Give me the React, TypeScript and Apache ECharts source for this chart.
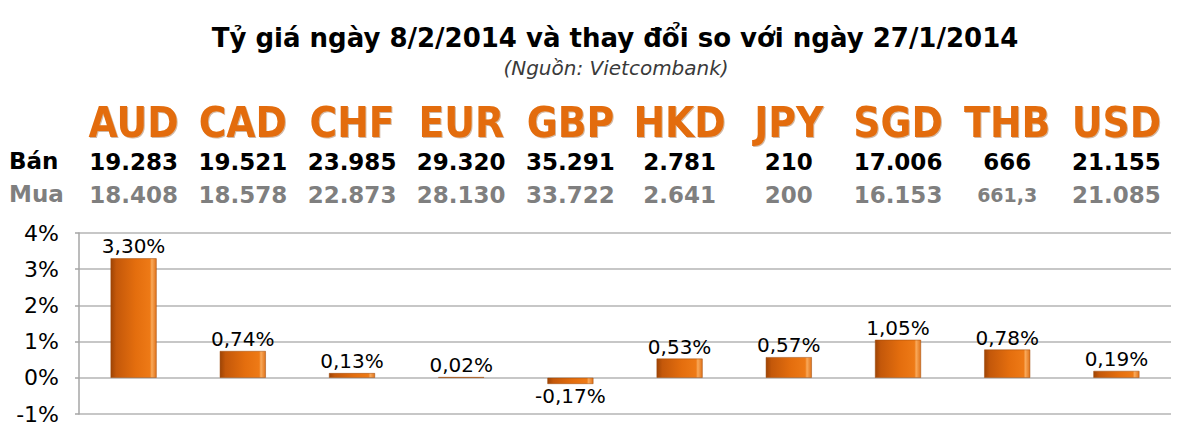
import React, { useEffect, useRef } from "react";
import * as echarts from "echarts";

const currencies = ["AUD", "CAD", "CHF", "EUR", "GBP", "HKD", "JPY", "SGD", "THB", "USD"];
const sellRates = ["19.283", "19.521", "23.985", "29.320", "35.291", "2.781", "210", "17.006", "666", "21.155"];
const buyRates = ["18.408", "18.578", "22.873", "28.130", "33.722", "2.641", "200", "16.153", "661,3", "21.085"];
const changes = [3.3, 0.74, 0.13, 0.02, -0.17, 0.53, 0.57, 1.05, 0.78, 0.19];
const yMin = -1;
const yMax = 4;
const yStep = 1;

const titleText = "Tỷ giá ngày 8/2/2014 và thay đổi so với ngày 27/1/2014";
const subText = "(Nguồn: Vietcombank)";
const sellLabel = "Bán";
const buyLabel = "Mua";

const FONT = "'DejaVu Sans', Verdana, sans-serif";
const NARROW = "'Liberation Sans Narrow', 'DejaVu Sans Condensed', 'Arial Narrow', sans-serif";

const fmtPct = (v: number) => v.toFixed(2).replace(".", ",") + "%";

export default function App() {
  const ref = useRef<HTMLDivElement>(null);
  useEffect(() => {
    if (!ref.current) return;
    const chart = echarts.init(ref.current, undefined, { renderer: "svg" });
    const gridTop = 233;
    const topAxis = (data: string[], offset: number, label: any) => ({
      type: "category",
      gridIndex: 0,
      position: "top",
      offset,
      data,
      axisLine: { show: false },
      axisTick: { show: false },
      splitLine: { show: false },
      axisLabel: { margin: 0, verticalAlign: "middle", interval: 0, ...label },
    });
    const barGradient = new echarts.graphic.LinearGradient(0, 0, 1, 0, [
      { offset: 0, color: "#9E4405" },
      { offset: 0.12, color: "#C4580A" },
      { offset: 0.55, color: "#E46E0E" },
      { offset: 0.86, color: "#EE7A16" },
      { offset: 0.9, color: "#F9A95A" },
      { offset: 1, color: "#E07218" },
    ]);
    chart.setOption({
      animation: false,
      backgroundColor: "#ffffff",
      title: [
        {
          text: titleText,
          left: 610,
          top: 20,
          textAlign: "center",
          textStyle: { fontFamily: FONT, fontWeight: "bold", fontSize: 26, color: "#000" },
        },
        {
          text: subText,
          left: 611,
          top: 53,
          textAlign: "center",
          textStyle: { fontFamily: FONT, fontStyle: "italic", fontWeight: "normal", fontSize: 20, color: "#3a3a3a" },
        },
      ],
      graphic: [
        {
          type: "text",
          left: 9,
          top: 149,
          style: { text: sellLabel, font: `bold 23px ${FONT}`, fill: "#000" },
        },
        {
          type: "text",
          left: 9,
          top: 182,
          style: { text: buyLabel, font: `bold 23px ${FONT}`, fill: "#7F7F7F" },
        },
      ],
      grid: { left: 79, right: 29, top: gridTop, bottom: 33, containLabel: false },
      xAxis: [
        {
          type: "category",
          data: currencies,
          axisLine: { show: false },
          axisTick: { show: false },
          axisLabel: { show: false },
          splitLine: { show: false },
        },
        topAxis(currencies, 111, {
          fontFamily: NARROW,
          fontWeight: "bold",
          fontSize: 42,
          color: "#E36C0A",
          textShadowColor: "rgba(120,50,0,0.35)",
          textShadowOffsetX: 1,
          textShadowOffsetY: 1,
          textShadowBlur: 1,
        }),
        topAxis(sellRates, 71, {
          fontFamily: FONT,
          fontWeight: "bold",
          fontSize: 23,
          color: "#000",
        }),
        topAxis(buyRates, 38, {
          fontFamily: FONT,
          fontWeight: "bold",
          fontSize: 23,
          color: "#7F7F7F",
          formatter: (v: string) => (v.includes(",") ? `{s|${v}}` : v),
          rich: { s: { fontFamily: FONT, fontWeight: "bold", fontSize: 19, color: "#7F7F7F" } },
        }),
      ],
      yAxis: {
        type: "value",
        min: yMin,
        max: yMax,
        interval: yStep,
        axisLine: { show: true, lineStyle: { color: "#A6A6A6", width: 1.5 } },
        axisTick: { show: true, length: 4, lineStyle: { color: "#A6A6A6", width: 1.5 } },
        splitLine: { show: true, lineStyle: { color: "#B4B4B4", width: 1.5 } },
        axisLabel: {
          formatter: (v: number) => `${v}%`,
          fontFamily: FONT,
          fontSize: 22,
          color: "#000",
          margin: 20,
        },
      },
      series: [
        {
          type: "bar",
          xAxisIndex: 0,
          data: changes.map((v) => ({
            value: v,
            label: { position: v < 0 ? "bottom" : "top" },
          })),
          barWidth: 46,
          itemStyle: { color: barGradient, borderColor: "#9C4808", borderWidth: 0.5 },
          label: {
            show: true,
            distance: 2,
            formatter: (p: any) => fmtPct(p.value),
            fontFamily: FONT,
            fontSize: 20,
            color: "#000",
          },
        },
      ],
    });
    return () => chart.dispose();
  }, []);
  return (
    <div
      ref={ref}
      style={{ position: "absolute", left: 0, top: 0, width: 1200, height: 447 }}
    />
  );
}
